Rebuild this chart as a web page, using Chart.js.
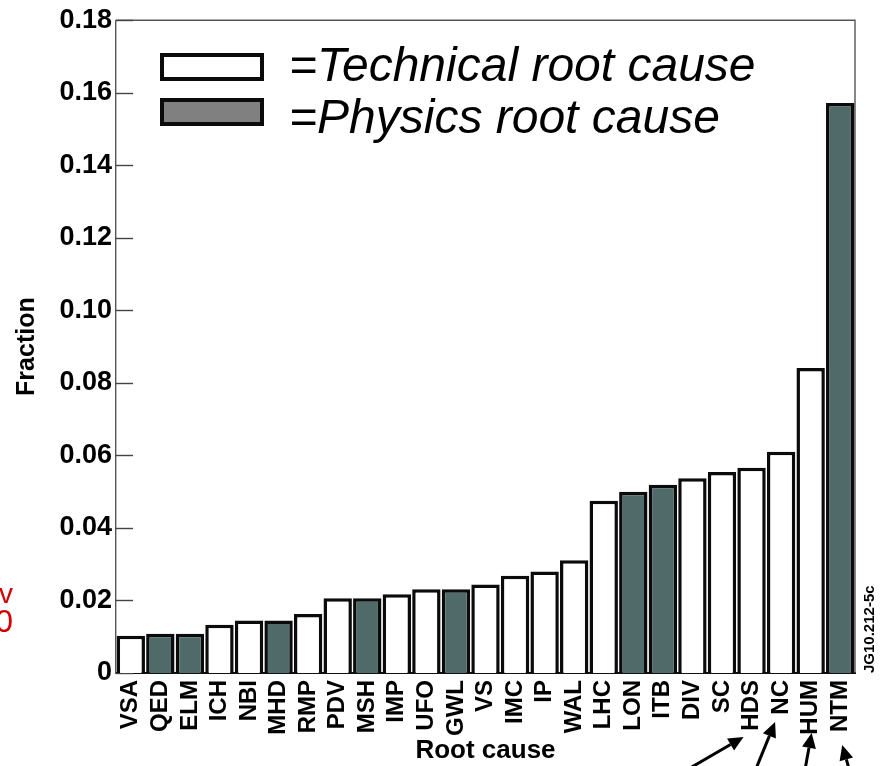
<!DOCTYPE html>
<html>
<head>
<meta charset="utf-8">
<title>Root cause fractions</title>
<script src="https://cdn.jsdelivr.net/npm/chart.js@4.4.1/dist/chart.umd.min.js"></script>
<style>
  html, body { margin: 0; background: #fff; }
  #wrap { width: 894px; height: 766px; }
</style>
</head>
<body>
<div id="wrap"><canvas id="c" width="894" height="766"></canvas></div>
<script>
// root causes, sorted by fraction
const causes = ["VSA", "QED", "ELM", "ICH", "NBI", "MHD", "RMP", "PDV", "MSH", "IMP", "UFO", "GWL",
  "VS", "IMC", "IP", "WAL", "LHC", "LON", "ITB", "DIV", "SC", "HDS", "NC", "HUM", "NTM"];
const fraction = [0.0103, 0.0108, 0.0108, 0.0133, 0.0145, 0.0145, 0.0163, 0.0206, 0.0206, 0.0217,
  0.0231, 0.0231, 0.0244, 0.0268, 0.0280, 0.0311, 0.0475, 0.0500, 0.0519, 0.0537, 0.0554, 0.0566,
  0.0610, 0.0841, 0.1572];
const physicsCauses = ["QED", "ELM", "MHD", "MSH", "GWL", "LON", "ITB", "NTM"];
const yTicks = [0, 0.02, 0.04, 0.06, 0.08, 0.10, 0.12, 0.14, 0.16, 0.18];
const flagged = ["HDS", "NC", "HUM", "NTM"];

const FONT = "'Liberation Sans', Arial, Helvetica, sans-serif";
const INK = "#0b0b0b";
const PHYS = "#506a6a";

const isPhys = (c) => physicsCauses.includes(c);
const technical = fraction.map((v, i) => (isPhys(causes[i]) ? null : v));
const physics = fraction.map((v, i) => (isPhys(causes[i]) ? v : null));

// legend swatches (the key uses a lighter grey than the bars)
const keyStyle = [
  { fill: "#ffffff" },
  { fill: "#808080" },
];

// arrows under the flagged labels: offset of the tip from the category centre, and direction
const arrowStyle = {
  HDS: { dx: -8, tipY: 737, vx: -50, vy: 29 },
  NC:  { dx: -6, tipY: 722, vx: -18, vy: 44 },
  HUM: { dx: 1,  tipY: 733, vx: -6,  vy: 33 },
  NTM: { dx: 2,  tipY: 745, vx: 6,   vy: 21 },
};

const decor = {
  id: "decor",
  beforeDatasetsDraw(chart) {
    const { ctx, chartArea: a, scales: { y } } = chart;
    ctx.save();
    // frame top + right
    ctx.strokeStyle = "#555";
    ctx.lineWidth = 1.4;
    ctx.beginPath();
    ctx.moveTo(a.left, a.top);
    ctx.lineTo(a.right, a.top);
    ctx.lineTo(a.right, a.bottom);
    ctx.stroke();
    // inward ticks on the y axis
    ctx.strokeStyle = "#444";
    ctx.lineWidth = 1.4;
    y.ticks.forEach((t) => {
      const py = Math.round(y.getPixelForValue(t.value)) + 0.5;
      ctx.beginPath();
      ctx.moveTo(a.left, py);
      ctx.lineTo(a.left + 17, py);
      ctx.stroke();
    });
    ctx.restore();
  },
  afterDraw(chart) {
    const { ctx, chartArea: a, scales: { x } } = chart;
    ctx.save();

    // key
    const ds = chart.data.datasets;
    ds.forEach((d, i) => {
      const top = 55 + i * 45;
      ctx.fillStyle = keyStyle[i].fill;
      ctx.fillRect(162, top, 100, 24);
      ctx.strokeStyle = INK;
      ctx.lineWidth = 4;
      ctx.strokeRect(162, top, 100, 24);
      ctx.fillStyle = "#000";
      ctx.font = `italic 48px ${FONT}`;
      ctx.textAlign = "left";
      ctx.textBaseline = "alphabetic";
      ctx.fillText("=" + d.label, 289, 81 + i * 52);
    });

    // figure id
    ctx.save();
    ctx.translate(874, a.bottom);
    ctx.rotate(-Math.PI / 2);
    ctx.font = `bold 15px ${FONT}`;
    ctx.fillStyle = "#000";
    ctx.textAlign = "left";
    ctx.textBaseline = "alphabetic";
    ctx.fillText("JG10.212-5c", 0, 0);
    ctx.restore();

    // arrows
    ctx.strokeStyle = "#000";
    ctx.fillStyle = "#000";
    ctx.lineWidth = 3;
    flagged.forEach((c) => {
      const s = arrowStyle[c];
      const tx = x.getPixelForValue(causes.indexOf(c)) + s.dx, ty = s.tipY;
      const len = Math.hypot(s.vx, s.vy), ux = s.vx / len, uy = s.vy / len;
      const head = 15, half = 7;
      const bx = tx + ux * head, by = ty + uy * head;
      ctx.beginPath();
      ctx.moveTo(bx, by);
      ctx.lineTo(tx + ux * 80, ty + uy * 80);
      ctx.stroke();
      ctx.beginPath();
      ctx.moveTo(tx, ty);
      ctx.lineTo(bx - uy * half, by + ux * half);
      ctx.lineTo(bx + uy * half, by - ux * half);
      ctx.closePath();
      ctx.fill();
    });

    // clipped red note at the far left
    ctx.fillStyle = "#d40000";
    ctx.textAlign = "right";
    ctx.font = `28px ${FONT}`;
    ctx.fillText("v", 13, 603);
    ctx.font = `32px ${FONT}`;
    ctx.fillText("0", 13, 632);
    ctx.restore();
  },
};

new Chart(document.getElementById("c"), {
  type: "bar",
  data: {
    labels: causes,
    datasets: [
      { label: "Technical root cause", data: technical, backgroundColor: "#ffffff" },
      { label: "Physics root cause", data: physics, backgroundColor: PHYS },
    ],
  },
  options: {
    responsive: false,
    devicePixelRatio: 1,
    animation: false,
    layout: { padding: { top: 18, right: 39, left: 0, bottom: 0 } },
    datasets: {
      bar: {
        borderColor: INK,
        borderWidth: 3.5,
        barPercentage: 0.96,
        categoryPercentage: 1,
      },
    },
    plugins: { legend: { display: false }, tooltip: { enabled: false } },
    scales: {
      x: {
        stacked: true,
        afterFit: (s) => { s.height = 93; },
        grid: { display: false, drawTicks: false },
        border: { display: true, color: "#111", width: 2 },
        ticks: {
          color: "#000",
          minRotation: 90,
          maxRotation: 90,
          autoSkip: false,
          padding: 7,
          font: { family: FONT, size: 24, weight: "bold" },
        },
        title: {
          display: true,
          text: "Root cause",
          color: "#000",
          padding: { top: 0, bottom: 0 },
          font: { family: FONT, size: 26, weight: "bold" },
        },
      },
      y: {
        stacked: true,
        min: 0,
        max: 0.18,
        afterFit: (s) => { s.width = 116; },
        afterBuildTicks: (s) => { s.ticks = yTicks.map((v) => ({ value: v })); },
        grid: { display: false, drawTicks: false },
        border: { display: true, color: "#555", width: 1.4 },
        ticks: {
          color: "#000",
          padding: 4,
          font: { family: FONT, size: 27, weight: "bold" },
          callback: (v) => (v === 0 ? "0" : v.toFixed(2)),
        },
        title: {
          display: true,
          text: "Fraction",
          color: "#000",
          padding: { top: 12, bottom: 0 },
          font: { family: FONT, size: 25, weight: "bold" },
        },
      },
    },
  },
  plugins: [decor],
});
</script>
</body>
</html>
